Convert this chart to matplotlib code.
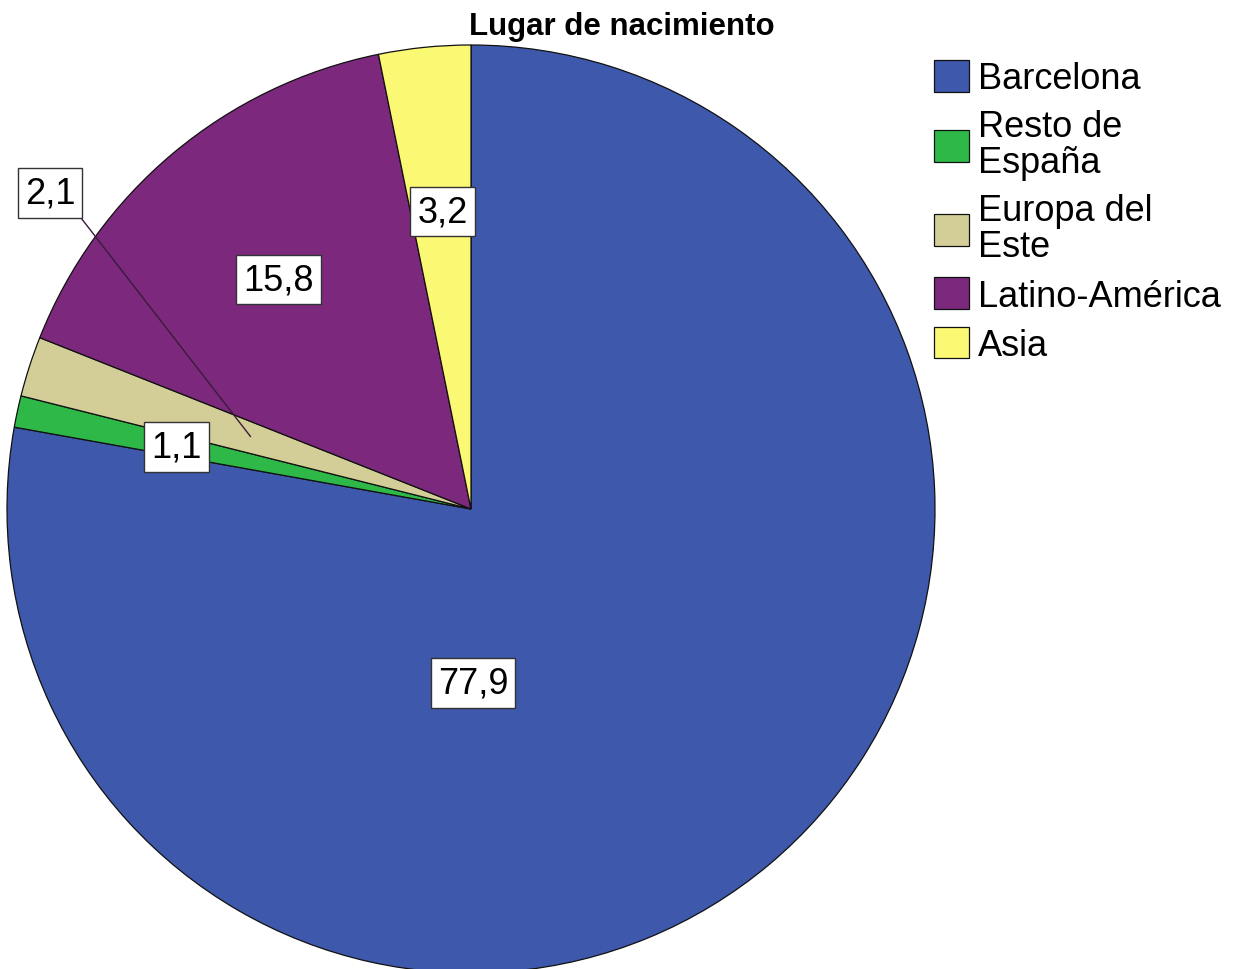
import numpy as np
import matplotlib.pyplot as plt

categorias = ['Barcelona', 'Resto de\nEspaña', 'Europa del\nEste', 'Latino-América', 'Asia']
porcentajes = [77.9, 1.1, 2.1, 15.8, 3.2]
etiquetas = ['77,9', '1,1', '2,1', '15,8', '3,2']
colores = ['#3E58AC', '#2EB848', '#D3CE97', '#7C287D', '#FBF873']

plt.rcParams['font.family'] = ['Liberation Sans', 'DejaVu Sans']

W, H = 1249, 970
fig = plt.figure(figsize=(W / 100, H / 100), dpi=100)
ax = fig.add_axes([0, 0, 1, 1])

cx, cy, R = 471, H - 510, 464
wedges, _ = ax.pie(porcentajes, colors=colores, startangle=90, counterclock=False,
                   center=(cx, cy), radius=R,
                   wedgeprops=dict(edgecolor='#111111', linewidth=0.9))
ax.set_xlim(0, W)
ax.set_ylim(0, H)
ax.set_aspect('equal')
ax.axis('off')

# angulo medio de cada sector
acum = np.cumsum([0] + porcentajes)
medios = 90 - (acum[:-1] + np.array(porcentajes) / 2) / 100 * 360

caja = dict(boxstyle='square,pad=0.2', facecolor='white', edgecolor='#333333', linewidth=1.0)
fs = 26
for i, (et, ang) in enumerate(zip(etiquetas, medios)):
    a = np.deg2rad(ang)
    if i == 0:
        ax.text(cx + 2, cy - 174, et, ha='center', va='center', fontsize=fs, bbox=caja)
    elif i == 2:
        ax.annotate(et, xy=(cx + 0.5 * R * np.cos(a), cy + 0.5 * R * np.sin(a)),
                    xytext=(50, H - 194), ha='center', va='center', fontsize=fs, bbox=caja,
                    arrowprops=dict(arrowstyle='-', color='#3a1a3a', lw=1.0,
                                    shrinkA=0, shrinkB=0, relpos=(1, 0)))
    else:
        ax.text(cx + 0.65 * R * np.cos(a), cy + 0.65 * R * np.sin(a) - 3, et,
                ha='center', va='center', fontsize=fs, bbox=caja)

ax.text(622, H - 27, 'Lugar de nacimiento', ha='center', va='center',
        fontsize=22.5, fontweight='bold')

leg = ax.legend(wedges, categorias, loc='upper left', bbox_to_anchor=(934 / W, (H - 61) / H),
                frameon=False, fontsize=26, handlelength=0.97, handleheight=0.97,
                handletextpad=0.25, labelspacing=0.36, borderaxespad=0, borderpad=0)
for t in leg.get_texts():
    t.set_linespacing(1.04)

fig.savefig('out.png', dpi=100)
